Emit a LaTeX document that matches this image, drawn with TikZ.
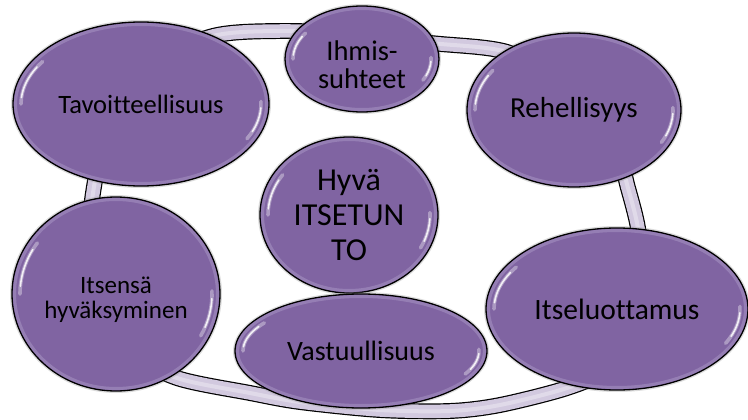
\documentclass[tikz,border=0pt]{standalone}
\usepackage{fontspec}
\setmainfont{Carlito}[Ligatures=NoCommon]
\usetikzlibrary{shapes.geometric,calc}
\definecolor{nodepurple}{HTML}{8064A2}
\definecolor{ringfill}{HTML}{D2C9DF}
\definecolor{ringmid}{HTML}{E4DFEC}
\definecolor{rimlight}{HTML}{A894C4}
\tikzset{
  bubble/.style={ellipse, draw=black, line width=1.3pt, fill=nodepurple, inner sep=0pt, outer sep=0pt},
  halo/.style={fill=gray, opacity=.28},
  rim/.style={draw=rimlight, line width=3pt, opacity=.55},
  glosswide/.style={draw=white, line cap=round, line width=3.6pt, opacity=.35},
  glossthin/.style={draw=white, line cap=round, line width=1.6pt, opacity=.85},
  ringline/.style={draw=black, line width=1.2pt, double=ringfill, double distance=13.5pt},
  ringcore/.style={draw=ringmid, line width=4pt, opacity=.8},
  label/.style={text=black, align=center, inner sep=0pt},
}
% #1 name, #2 x, #3 y (screen, down), #4 rx, #5 ry, #6 font {size}{skip}, #7 text shift down, #8 text
\newcommand{\bub}[8]{%
  \fill[halo] (#2,-#3) ellipse [x radius=#4+2, y radius=#5+2];
  \node[bubble, minimum width={2*#4pt}, minimum height={2*#5pt}] (#1) at (#2,-#3) {};
  \draw[rim] (#2,-#3) ellipse [x radius=#4-2.5, y radius=#5-2.5];
  \draw[glosswide] (#2,-#3) ++(145:{#4-8} and {#5-8}) arc[start angle=145, end angle=180, x radius=#4-8, y radius=#5-8];
  \draw[glossthin] (#2,-#3) ++(150:{#4-8} and {#5-8}) arc[start angle=150, end angle=175, x radius=#4-8, y radius=#5-8];
  \draw[glosswide] (#2,-#3) ++(-28:{#4-8} and {#5-8}) arc[start angle=-28, end angle=2, x radius=#4-8, y radius=#5-8];
  \draw[glossthin] (#2,-#3) ++(-22:{#4-8} and {#5-8}) arc[start angle=-22, end angle=-3, x radius=#4-8, y radius=#5-8];
  \node[label, font=\fontsize#6\selectfont] (#1-text) at ($(#1.center)+(0,-#7)$) {#8};
}
\begin{document}
\begin{tikzpicture}[x=1pt,y=1pt]
\useasboundingbox (0,0) rectangle (748,-420);
\fill[white] (0,0) rectangle (748,-420);
% ring
\draw[ringline] plot[smooth cycle] coordinates {
  (213,-36) (280,-31) (360,-34) (431,-43) (507,-52) (570,-85) (612,-135)
  (628,-188) (638,-228) (643,-275) (632,-330) (605,-370) (567,-388)
  (500,-405) (450,-411) (380,-410) (300,-402) (250,-393) (177,-378)
  (130,-352) (100,-305) (90,-250) (93,-193) (110,-120) (150,-65)};
\draw[ringcore] plot[smooth cycle] coordinates {
  (213,-36) (280,-31) (360,-34) (431,-43) (507,-52) (570,-85) (612,-135)
  (628,-188) (638,-228) (643,-275) (632,-330) (605,-370) (567,-388)
  (500,-405) (450,-411) (380,-410) (300,-402) (250,-393) (177,-378)
  (130,-352) (100,-305) (90,-250) (93,-193) (110,-120) (150,-65)};
% bubbles
\bub{tav}{141}{104}{128}{82}{{26.5}{30}}{0}{Tavoitteellisuus}
\bub{ihm}{362}{59}{77}{53}{{28.5}{28}}{6}{Ihmis-\\suhteet}
\bub{reh}{574}{110}{107}{77}{{29}{32}}{0}{Rehellisyys}
\bub{hyv}{349}{215}{89}{78}{{32}{35}}{0}{Hyvä\\ITSETUN\\TO}
\bub{its}{116}{294}{104}{97}{{25}{25}}{6}{Itsensä\\hyväksyminen}
\bub{vas}{361}{351}{126}{57}{{28}{30}}{0}{Vastuullisuus}
\bub{luo}{617}{309}{131}{81}{{29.5}{32}}{0}{Itseluottamus}
\end{tikzpicture}
\end{document}
